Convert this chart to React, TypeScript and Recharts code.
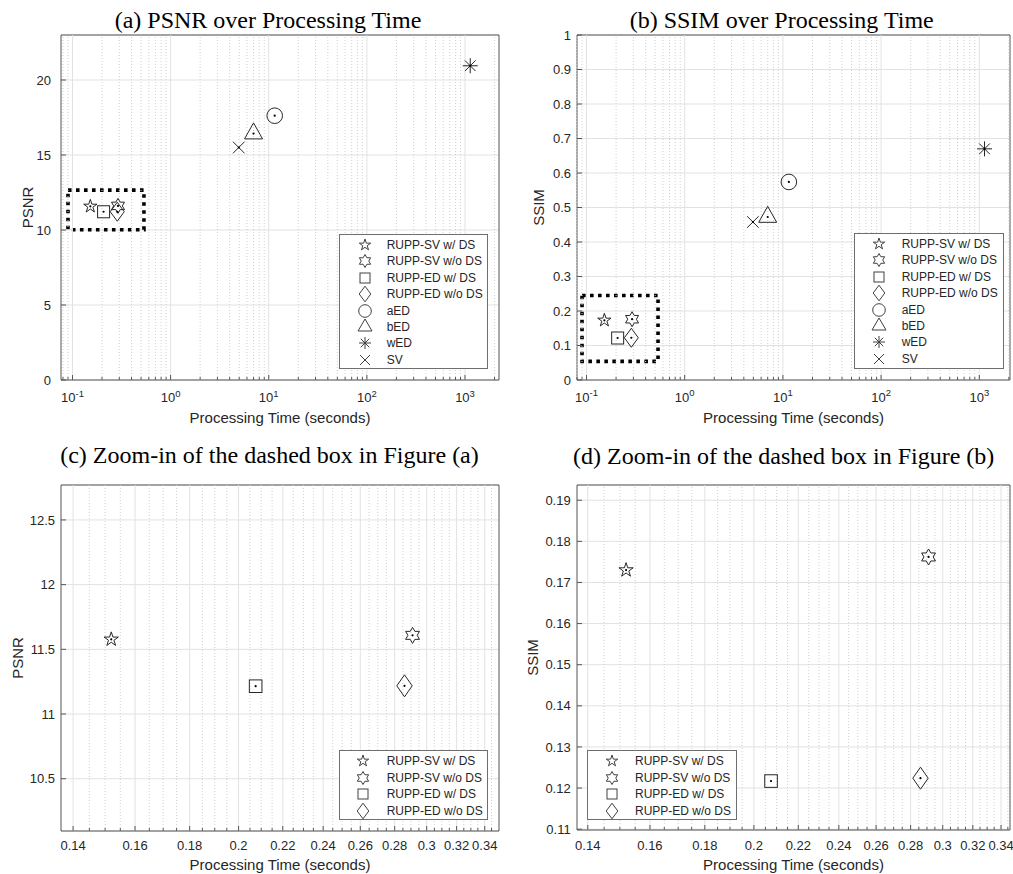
import React from 'react';
import {
  ScatterChart,
  Scatter,
  XAxis,
  YAxis,
  CartesianGrid,
  ReferenceLine,
  ReferenceArea,
  Legend,
} from 'recharts';

// ---------------- data ----------------
const methods = [
  'RUPP-SV w/ DS',
  'RUPP-SV w/o DS',
  'RUPP-ED w/ DS',
  'RUPP-ED w/o DS',
  'aED',
  'bED',
  'wED',
  'SV',
];
const markerKinds = ['pentagram', 'hexagram', 'square', 'diamond', 'circle', 'triangle', 'asterisk', 'cross'];
const timeSec = [0.152, 0.291, 0.2075, 0.286, 11.5, 7.0, 1130, 4.95];
const psnrValues = [11.577, 11.608, 11.215, 11.218, 17.62, 16.43, 20.95, 15.5];
const ssimValues = [0.173, 0.1762, 0.1217, 0.1224, 0.574, 0.4725, 0.67, 0.458];
const allSeries = [0, 1, 2, 3, 4, 5, 6, 7];
const zoomSeries = [0, 1, 2, 3];

const logMajorTicks = [0.1, 1, 10, 100, 1000];
const logMinorTicks = [
  0.08, 0.09, 0.2, 0.3, 0.4, 0.5, 0.6, 0.7, 0.8, 0.9, 2, 3, 4, 5, 6, 7, 8, 9, 20, 30, 40, 50, 60, 70, 80, 90,
  200, 300, 400, 500, 600, 700, 800, 900, 2000,
];
const zoomTimeMajorTicks = [0.14, 0.16, 0.18, 0.2, 0.22, 0.24, 0.26, 0.28, 0.3, 0.32, 0.34];
const zoomTimeMinorTicks = [
  0.145, 0.15, 0.155, 0.165, 0.17, 0.175, 0.185, 0.19, 0.195, 0.205, 0.21, 0.215, 0.225, 0.23, 0.235, 0.245,
  0.25, 0.255, 0.265, 0.27, 0.275, 0.285, 0.29, 0.295, 0.305, 0.31, 0.315, 0.325, 0.33, 0.335, 0.345,
];
const psnrTicks = [0, 5, 10, 15, 20];
const ssimTicks = [0, 0.1, 0.2, 0.3, 0.4, 0.5, 0.6, 0.7, 0.8, 0.9, 1];
const zoomPsnrTicks = [10.5, 11, 11.5, 12, 12.5];
const zoomSsimTicks = [0.11, 0.12, 0.13, 0.14, 0.15, 0.16, 0.17, 0.18, 0.19];
const zoomBoxTime: [number, number] = [0.09, 0.535];
const zoomBoxPsnr: [number, number] = [10.02, 12.66];
const zoomBoxSsim: [number, number] = [0.054, 0.245];

// ---------------- styling ----------------
const FONT = '"Liberation Sans", Arial, Helvetica, sans-serif';
const SERIF = '"Liberation Serif", "Times New Roman", serif';
const AXIS = '#555555';
const TEXT = '#262626';
const TICK_FONT = 13;

type MarkerSize = {
  pent: number;
  hex: number;
  sq: number;
  dw: number;
  dh: number;
  circ: number;
  triW: number;
  triH: number;
  ast: number;
  cross: number;
};

const bigSize: MarkerSize = { pent: 7, hex: 7.5, sq: 6, dw: 7, dh: 9.5, circ: 7.8, triW: 18, triH: 16, ast: 7.5, cross: 5.8 };
const zoomSize: MarkerSize = { pent: 7.5, hex: 8, sq: 6.3, dw: 7.7, dh: 11, circ: 7.8, triW: 18, triH: 16, ast: 7.5, cross: 5.8 };
const legendSize: MarkerSize = { pent: 6, hex: 6.5, sq: 5, dw: 5.8, dh: 7.8, circ: 6.3, triW: 14, triH: 12, ast: 6, cross: 5 };

function Marker(props: { kind: string; cx: number; cy: number; s: MarkerSize; dot?: boolean; color: string }) {
  const { kind, cx, cy, s, dot, color } = props;
  const common = { fill: 'none', stroke: color, strokeWidth: 1 };
  let el: React.ReactNode = null;
  if (kind === 'pentagram') {
    const pts: string[] = [];
    for (let k = 0; k < 10; k++) {
      const r = k % 2 === 0 ? s.pent : s.pent * 0.382;
      const a = -Math.PI / 2 + (k * Math.PI) / 5;
      pts.push(`${cx + r * Math.cos(a)},${cy + r * Math.sin(a)}`);
    }
    el = <polygon points={pts.join(' ')} {...common} strokeLinejoin="miter" />;
  } else if (kind === 'hexagram') {
    const pts: string[] = [];
    for (let k = 0; k < 12; k++) {
      const r = k % 2 === 0 ? s.hex : s.hex / Math.sqrt(3);
      const a = -Math.PI / 2 + (k * Math.PI) / 6;
      pts.push(`${cx + r * Math.cos(a)},${cy + r * Math.sin(a)}`);
    }
    el = <polygon points={pts.join(' ')} {...common} />;
  } else if (kind === 'square') {
    el = <rect x={cx - s.sq} y={cy - s.sq} width={2 * s.sq} height={2 * s.sq} {...common} />;
  } else if (kind === 'diamond') {
    el = (
      <polygon
        points={`${cx},${cy - s.dh} ${cx + s.dw},${cy} ${cx},${cy + s.dh} ${cx - s.dw},${cy}`}
        {...common}
      />
    );
  } else if (kind === 'circle') {
    el = <circle cx={cx} cy={cy} r={s.circ} {...common} />;
  } else if (kind === 'triangle') {
    el = (
      <polygon
        points={`${cx},${cy - (2 * s.triH) / 3} ${cx + s.triW / 2},${cy + s.triH / 3} ${cx - s.triW / 2},${cy + s.triH / 3}`}
        {...common}
      />
    );
  } else if (kind === 'asterisk') {
    const r = s.ast;
    const d = r * 0.7071;
    el = (
      <path
        d={`M${cx - r},${cy}H${cx + r}M${cx},${cy - r}V${cy + r}M${cx - d},${cy - d}L${cx + d},${cy + d}M${cx - d},${cy + d}L${cx + d},${cy - d}`}
        {...common}
      />
    );
  } else if (kind === 'cross') {
    const c = s.cross;
    el = <path d={`M${cx - c},${cy - c}L${cx + c},${cy + c}M${cx - c},${cy + c}L${cx + c},${cy - c}`} {...common} />;
  }
  return (
    <g>
      {el}
      {dot ? <circle cx={cx} cy={cy} r={1.1} fill="#000" /> : null}
    </g>
  );
}

type LegendCfg = {
  left: number;
  top: number;
  width: number;
  height: number;
  markerX: number;
  textX: number;
  first: number;
  step: number;
};

type PanelCfg = {
  key: string;
  left: number;
  top: number;
  width: number;
  height: number;
  marginTop: number;
  marginRight: number;
  yAxisWidth: number;
  xAxisHeight: number;
  xDomain: [number, number];
  yDomain: [number, number];
  xMajor: number[];
  xMinor: number[];
  yMajor: number[];
  powLabels: boolean;
  values: number[];
  series: number[];
  size: MarkerSize;
  title: string;
  titleX: number;
  titleBaseline: number;
  yLabel: string;
  yLabelCenter: number;
  xLabelOffset: number;
  yTickGap: number;
  xTickBaseline: number;
  legend: LegendCfg;
  box?: { x: [number, number]; y: [number, number] };
};

const isIn = (v: number, arr: number[]) => arr.some((a) => Math.abs(a - v) < 1e-9 * Math.max(1, Math.abs(a)));

function LegendBox({ cfg, series }: { cfg: LegendCfg; series: number[] }) {
  return (
    <div
      style={{
        position: 'relative',
        width: cfg.width,
        height: cfg.height,
        boxSizing: 'border-box',
        border: '1px solid #6e6e6e',
        background: '#fff',
      }}
    >
      {series.map((i, r) => (
        <div
          key={i}
          style={{ position: 'absolute', left: 0, top: cfg.first + r * cfg.step - 8 - 1, height: 16, width: '100%' }}
        >
          <svg
            width={30}
            height={16}
            style={{ position: 'absolute', left: cfg.markerX - 15 - 1, top: 0, overflow: 'visible' }}
          >
            <Marker kind={markerKinds[i]} cx={15} cy={8} s={legendSize} color="#404040" />
          </svg>
          <span
            style={{
              position: 'absolute',
              left: cfg.textX - 1,
              top: 0,
              lineHeight: '16px',
              fontSize: 12,
              fontFamily: FONT,
              color: TEXT,
              whiteSpace: 'nowrap',
            }}
          >
            {methods[i]}
          </span>
        </div>
      ))}
    </div>
  );
}

function Panel({ p }: { p: PanelCfg }) {
  const xTicks = [...p.xMajor, ...p.xMinor].sort((a, b) => a - b);
  const renderXTick = (tp: any) => {
    const v = tp.payload.value;
    const major = isIn(v, p.xMajor);
    let label: React.ReactNode = null;
    if (major) {
      if (p.powLabels) {
        const e = Math.round(Math.log10(v));
        label = (
          <text
            x={tp.x}
            y={tp.y + p.xTickBaseline}
            textAnchor="middle"
            fontSize={TICK_FONT}
            fontFamily={FONT}
            fill={TEXT}
          >
            <tspan>10</tspan>
            <tspan dy={-5.5} fontSize={9.5}>
              {String(e)}
            </tspan>
          </text>
        );
      } else {
        label = (
          <text
            x={tp.x}
            y={tp.y + p.xTickBaseline}
            textAnchor="middle"
            fontSize={TICK_FONT}
            fontFamily={FONT}
            fill={TEXT}
          >
            {String(v)}
          </text>
        );
      }
    }
    return (
      <g>
        <line x1={tp.x} x2={tp.x} y1={tp.y} y2={tp.y - (major ? 5 : 3)} stroke={AXIS} />
        {label}
      </g>
    );
  };
  const renderTopTick = (tp: any) => {
    const v = tp.payload.value;
    const major = isIn(v, p.xMajor);
    return <line x1={tp.x} x2={tp.x} y1={tp.y} y2={tp.y + (major ? 5 : 3)} stroke={AXIS} />;
  };
  const renderYTick = (tp: any) => (
    <g>
      <line x1={tp.x} x2={tp.x + 5} y1={tp.y} y2={tp.y} stroke={AXIS} />
      <text
        x={tp.x - p.yTickGap}
        y={tp.y}
        dy={4.6}
        textAnchor="end"
        fontSize={TICK_FONT}
        fontFamily={FONT}
        fill={TEXT}
      >
        {String(tp.payload.value)}
      </text>
    </g>
  );
  const renderRightTick = (tp: any) => <line x1={tp.x} x2={tp.x - 5} y1={tp.y} y2={tp.y} stroke={AXIS} />;

  return (
    <div style={{ position: 'absolute', left: p.left, top: p.top, width: p.width, height: p.height }}>
      <ScatterChart
        width={p.width}
        height={p.height}
        margin={{ top: p.marginTop, right: p.marginRight, bottom: 0, left: 0 }}
      >
        <CartesianGrid vertical={false} stroke="#e2e2e2" />
        {p.xMinor.map((v) => (
          <ReferenceLine key={'mn' + v} x={v} stroke="#d0d0d0" strokeDasharray="1 2" />
        ))}
        {p.xMajor.map((v) => (
          <ReferenceLine key={'mj' + v} x={v} stroke="#e2e2e2" />
        ))}
        <XAxis
          dataKey="x"
          type="number"
          scale="log"
          domain={p.xDomain}
          allowDataOverflow
          ticks={xTicks}
          interval={0}
          tickSize={0}
          tickMargin={0}
          axisLine={false}
          tickLine={false}
          height={p.xAxisHeight}
          tick={renderXTick}
          label={{
            value: 'Processing Time (seconds)',
            position: 'insideBottom',
            offset: p.xLabelOffset,
            style: { fontSize: 15, fontFamily: FONT, fill: TEXT },
          }}
        />
        <XAxis
          xAxisId="top"
          orientation="top"
          dataKey="x"
          type="number"
          scale="log"
          domain={p.xDomain}
          allowDataOverflow
          ticks={xTicks}
          interval={0}
          tickSize={0}
          tickMargin={0}
          axisLine={false}
          tickLine={false}
          height={0}
          tick={renderTopTick}
        />
        <YAxis
          dataKey="y"
          type="number"
          domain={p.yDomain}
          allowDataOverflow
          ticks={p.yMajor}
          interval={0}
          tickSize={0}
          tickMargin={0}
          axisLine={false}
          tickLine={false}
          width={p.yAxisWidth}
          tick={renderYTick}
          label={{
            value: p.yLabel,
            angle: -90,
            position: 'insideLeft',
            offset: p.yLabelCenter,
            style: { fontSize: 15, fontFamily: FONT, fill: TEXT, textAnchor: 'middle' },
          }}
        />
        <YAxis
          yAxisId="right"
          orientation="right"
          dataKey="y"
          type="number"
          domain={p.yDomain}
          allowDataOverflow
          ticks={p.yMajor}
          interval={0}
          tickSize={0}
          tickMargin={0}
          axisLine={false}
          tickLine={false}
          width={0}
          tick={renderRightTick}
        />
        <ReferenceArea
          x1={p.xDomain[0]}
          x2={p.xDomain[1]}
          y1={p.yDomain[0]}
          y2={p.yDomain[1]}
          fill="none"
          fillOpacity={0}
          stroke={AXIS}
          strokeWidth={1}
          ifOverflow="visible"
        />
        {p.box ? (
          <ReferenceArea
            x1={p.box.x[0]}
            x2={p.box.x[1]}
            y1={p.box.y[0]}
            y2={p.box.y[1]}
            fill="none"
            fillOpacity={0}
            stroke="#000"
            strokeWidth={3.6}
            strokeDasharray="3.6 4.4"
            ifOverflow="visible"
          />
        ) : null}
        {p.series.map((i) => (
          <Scatter
            key={i}
            name={methods[i]}
            data={[{ x: timeSec[i], y: p.values[i] }]}
            isAnimationActive={false}
            shape={(sp: any) => (
              <Marker kind={markerKinds[i]} cx={sp.cx} cy={sp.cy} s={p.size} dot color="#262626" />
            )}
          />
        ))}
        <Legend
          layout="vertical"
          align="center"
          verticalAlign="middle"
          wrapperStyle={{ left: p.legend.left, top: p.legend.top, width: p.legend.width, height: p.legend.height }}
          content={() => <LegendBox cfg={p.legend} series={p.series} />}
        />
      </ScatterChart>
      <div
        style={{
          position: 'absolute',
          left: p.titleX - p.left - 300,
          top: p.titleBaseline - p.top - 20.1,
          width: 600,
          textAlign: 'center',
          fontFamily: SERIF,
          fontSize: 24,
          lineHeight: '24px',
          color: '#000',
          whiteSpace: 'nowrap',
        }}
      >
        {p.title}
      </div>
    </div>
  );
}

const panels: PanelCfg[] = [
  {
    key: 'a',
    left: 0,
    top: 0,
    width: 506,
    height: 430,
    marginTop: 35,
    marginRight: 7,
    yAxisWidth: 61,
    xAxisHeight: 50,
    xDomain: [0.0764, 2220],
    yDomain: [0, 23],
    xMajor: logMajorTicks,
    xMinor: logMinorTicks,
    yMajor: psnrTicks,
    powLabels: true,
    values: psnrValues,
    series: allSeries,
    size: bigSize,
    title: '(a) PSNR over Processing Time',
    titleX: 268,
    titleBaseline: 28.5,
    yLabel: 'PSNR',
    yLabelCenter: 28,
    xLabelOffset: 7.5,
    yTickGap: 10,
    xTickBaseline: 22,
    legend: { left: 339, top: 234, width: 149, height: 135, markerX: 26, textX: 47.7, first: 11, step: 16.4 },
    box: { x: zoomBoxTime, y: zoomBoxPsnr },
  },
  {
    key: 'b',
    left: 506,
    top: 0,
    width: 507,
    height: 430,
    marginTop: 35,
    marginRight: 3,
    yAxisWidth: 71,
    xAxisHeight: 50,
    xDomain: [0.08, 2054],
    yDomain: [0, 1],
    xMajor: logMajorTicks,
    xMinor: logMinorTicks,
    yMajor: ssimTicks,
    powLabels: true,
    values: ssimValues,
    series: allSeries,
    size: bigSize,
    title: '(b) SSIM over Processing Time',
    titleX: 781.7,
    titleBaseline: 28,
    yLabel: 'SSIM',
    yLabelCenter: 33,
    xLabelOffset: 7.5,
    yTickGap: 6,
    xTickBaseline: 21.7,
    legend: { left: 348, top: 233, width: 150, height: 136, markerX: 25, textX: 47.7, first: 11, step: 16.4 },
    box: { x: zoomBoxTime, y: zoomBoxSsim },
  },
  {
    key: 'c',
    left: 0,
    top: 430,
    width: 506,
    height: 444,
    marginTop: 55,
    marginRight: 7,
    yAxisWidth: 61,
    xAxisHeight: 43,
    xDomain: [0.1364, 0.3506],
    yDomain: [10.096, 12.77],
    xMajor: zoomTimeMajorTicks,
    xMinor: zoomTimeMinorTicks,
    yMajor: zoomPsnrTicks,
    powLabels: false,
    values: psnrValues,
    series: zoomSeries,
    size: zoomSize,
    title: '(c) Zoom-in of the dashed box in Figure (a)',
    titleX: 269.5,
    titleBaseline: 463.5,
    yLabel: 'PSNR',
    yLabelCenter: 17.4,
    xLabelOffset: 4,
    yTickGap: 6,
    xTickBaseline: 19.3,
    legend: { left: 339, top: 320, width: 149, height: 70, markerX: 24.3, textX: 47.7, first: 11, step: 16.6 },
  },
  {
    key: 'd',
    left: 506,
    top: 430,
    width: 507,
    height: 444,
    marginTop: 55,
    marginRight: 3,
    yAxisWidth: 71,
    xAxisHeight: 44,
    xDomain: [0.1368, 0.3466],
    yDomain: [0.1098, 0.1937],
    xMajor: zoomTimeMajorTicks,
    xMinor: zoomTimeMinorTicks,
    yMajor: zoomSsimTicks,
    powLabels: false,
    values: ssimValues,
    series: zoomSeries,
    size: zoomSize,
    title: '(d) Zoom-in of the dashed box in Figure (b)',
    titleX: 783.7,
    titleBaseline: 464,
    yLabel: 'SSIM',
    yLabelCenter: 26.4,
    xLabelOffset: 4,
    yTickGap: 6.3,
    xTickBaseline: 20.2,
    legend: { left: 81.3, top: 320, width: 149.4, height: 70, markerX: 24.4, textX: 47.7, first: 11, step: 16.6 },
  },
];

export default function App() {
  return (
    <div style={{ position: 'absolute', left: 0, top: 0, width: 1013, height: 874, background: '#fff', overflow: 'hidden' }}>
      {panels.map((p) => (
        <Panel key={p.key} p={p} />
      ))}
    </div>
  );
}
